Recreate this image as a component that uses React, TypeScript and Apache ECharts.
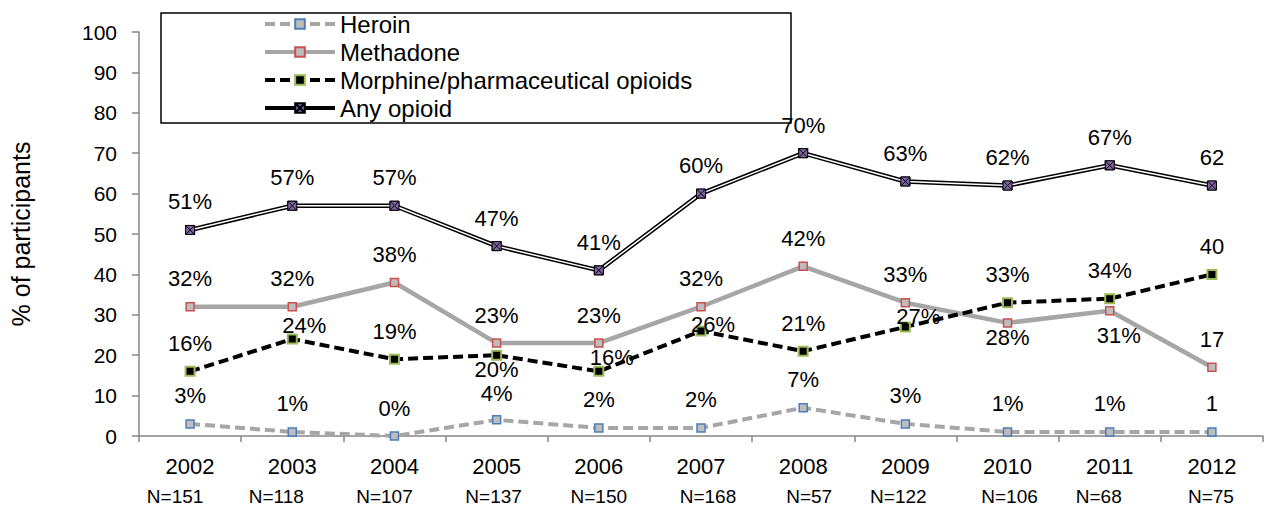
import React, { useEffect, useRef } from "react";
import * as echarts from "echarts";

// ---- data ----
const years = ["2002", "2003", "2004", "2005", "2006", "2007", "2008", "2009", "2010", "2011", "2012"];
const sampleSizes = ["N=151", "N=118", "N=107", "N=137", "N=150", "N=168", "N=57", "N=122", "N=106", "N=68", "N=75"];
const heroin = [3, 1, 0, 4, 2, 2, 7, 3, 1, 1, 1];
const methadone = [32, 32, 38, 23, 23, 32, 42, 33, 28, 31, 17];
const morphine = [16, 24, 19, 20, 16, 26, 21, 27, 33, 34, 40];
const anyOpioid = [51, 57, 57, 47, 41, 60, 70, 63, 62, 67, 62];
const seriesNames = ["Heroin", "Methadone", "Morphine/pharmaceutical opioids", "Any opioid"];
const yAxisTitle = "% of participants";

// ---- layout (label placement tweaks, not data) ----
const nLabelShift = [-15, -16, -10, -3, 0, 7, 6, -7, 2, -11, -1];
const defaultLabelOffset: [number, number] = [0, -28];
const heroinLabelOffsets: Record<number, [number, number]> = { 3: [0, -26] };
const methadoneLabelOffsets: Record<number, [number, number]> = { 8: [0, 15], 9: [9, 25] };
const morphineLabelOffsets: Record<number, [number, number]> = {
  1: [12, -14],
  3: [0, 14],
  4: [13, -14],
  5: [12, -6],
  7: [13, -10],
};

const FONT = "'Liberation Sans', Arial, Helvetica, sans-serif";
const X_SYMBOL = "path://M0,0H10V10H0ZM0,0L10,10M10,0L0,10";

function withLabels(values: number[], offsets: Record<number, [number, number]> = {}) {
  return values.map((v, i) => ({
    value: v,
    label: { offset: offsets[i] || defaultLabelOffset },
  }));
}

const labelStyle = {
  show: true,
  position: "inside",
  color: "#000",
  fontSize: 22,
  fontFamily: FONT,
  textBorderWidth: 0,
  formatter: (p: any) => (p.dataIndex === years.length - 1 ? `${p.value}` : `${p.value}%`),
};

export default function App() {
  const ref = useRef<HTMLDivElement>(null);

  useEffect(() => {
    if (!ref.current) return;
    const chart = echarts.init(ref.current, undefined, { renderer: "svg" });

    const nRich: Record<string, any> = {};
    nLabelShift.forEach((dx, i) => {
      nRich["s" + i] = {
        fontSize: 19,
        fontFamily: FONT,
        color: "#000",
        padding: dx < 0 ? [0, -2 * dx, 0, 0] : [0, 0, 0, 2 * dx],
      };
    });

    chart.setOption({
      animation: false,
      backgroundColor: "#fff",
      textStyle: { fontFamily: FONT },
      grid: { left: 136, right: 5, top: 32, bottom: 75, containLabel: false },
      legend: {
        data: seriesNames,
        orient: "vertical",
        left: 263,
        top: 12,
        padding: 0,
        itemWidth: 70,
        itemHeight: 12,
        itemGap: 4,
        selectedMode: false,
        lineStyle: { width: 4 },
        textStyle: { fontSize: 24, color: "#000", fontFamily: FONT },
      },
      graphic: [
        {
          type: "rect",
          z: 1,
          shape: { x: 161, y: 13, width: 630, height: 110 },
          style: { fill: "transparent", stroke: "#000", lineWidth: 1.5 },
        },
      ],
      xAxis: [
        {
          type: "category",
          data: years,
          boundaryGap: true,
          axisLine: { lineStyle: { color: "#868686", width: 1.5 } },
          axisTick: { show: true, length: 6, lineStyle: { color: "#868686", width: 1.5 } },
          axisLabel: { interval: 0, fontSize: 22, color: "#000", margin: 19, fontFamily: FONT },
        },
        {
          type: "category",
          data: sampleSizes,
          position: "bottom",
          boundaryGap: true,
          axisLine: { show: false },
          axisTick: { show: false },
          axisLabel: {
            interval: 0,
            margin: 51,
            formatter: (v: string, i: number) => `{s${i}|${v}}`,
            rich: nRich,
          },
        },
      ],
      yAxis: {
        type: "value",
        min: 0,
        max: 100,
        interval: 10,
        name: yAxisTitle,
        nameLocation: "middle",
        nameRotate: 90,
        nameGap: 106,
        nameTextStyle: { fontSize: 25, color: "#000", fontFamily: FONT },
        axisLine: { show: true, lineStyle: { color: "#868686", width: 1.5 } },
        axisTick: { show: true, length: 7, lineStyle: { color: "#868686", width: 1.5 } },
        axisLabel: { fontSize: 21, color: "#000", margin: 22, fontFamily: FONT },
        splitLine: { show: false },
      },
      series: [
        {
          name: seriesNames[0],
          type: "line",
          data: withLabels(heroin, heroinLabelOffsets),
          z: 2,
          symbol: "rect",
          symbolSize: 8,
          lineStyle: { color: "#a6a6a6", width: 4, type: [10, 5] },
          itemStyle: { color: "#bdbdbd", borderColor: "#4a7ebb", borderWidth: 1.5 },
          label: labelStyle,
        },
        {
          name: seriesNames[1],
          type: "line",
          data: withLabels(methadone, methadoneLabelOffsets),
          z: 2,
          symbol: "rect",
          symbolSize: 8,
          lineStyle: { color: "#a6a6a6", width: 4.5 },
          itemStyle: { color: "#bdbdbd", borderColor: "#c9504d", borderWidth: 1.5 },
          label: labelStyle,
        },
        {
          name: seriesNames[2],
          type: "line",
          data: withLabels(morphine, morphineLabelOffsets),
          z: 2,
          symbol: "rect",
          symbolSize: 9,
          lineStyle: { color: "#000", width: 4, type: [10, 5] },
          itemStyle: { color: "#000", borderColor: "#9bbb59", borderWidth: 2 },
          label: labelStyle,
        },
        {
          name: seriesNames[3],
          type: "line",
          data: anyOpioid,
          z: 3,
          symbol: X_SYMBOL,
          symbolSize: 9,
          lineStyle: { color: "#000", width: 4.5 },
          itemStyle: { color: "#7f63a5", borderColor: "#000", borderWidth: 1 },
        },
        {
          name: "anyOpioidInner",
          type: "line",
          data: anyOpioid,
          z: 4,
          silent: true,
          symbol: "none",
          lineStyle: { color: "#fff", width: 1.5 },
        },
        {
          name: "anyOpioidMarker",
          type: "scatter",
          data: withLabels(anyOpioid),
          z: 5,
          symbol: X_SYMBOL,
          symbolSize: 9,
          itemStyle: { color: "#7f63a5", borderColor: "#000", borderWidth: 1, opacity: 1 },
          label: labelStyle,
        },
      ],
    });

    return () => chart.dispose();
  }, []);

  return (
    <div
      ref={ref}
      style={{ position: "fixed", left: 0, top: 0, width: 1268, height: 511 }}
    />
  );
}
